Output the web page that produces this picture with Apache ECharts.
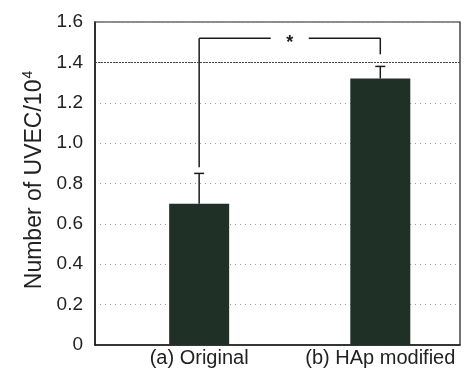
<!DOCTYPE html>
<html>
<head>
<meta charset="utf-8">
<script src="https://cdn.jsdelivr.net/npm/echarts@6/dist/echarts.min.js"></script>
<style>
  html, body { margin: 0; padding: 0; background: #fff; }
  #chart { width: 464px; height: 372px; }
</style>
</head>
<body>
<div id="chart"></div>
<script>
  // data
  const categories = ['(a) Original', '(b) HAp modified']
  const means = [0.70, 1.32]
  const errors = [0.15, 0.06]
  const yMin = 0, yMax = 1.6, yStep = 0.2
  const highlightLine = 1.4
  // significance bracket: top level and where each leg stops
  const bracketTop = 1.52
  const bracketLegs = [0.88, 1.44]
  const sigMark = '*'

  const ink = '#1a1a1a'
  const chart = echarts.init(document.getElementById('chart'))

  function seg(x1, y1, x2, y2) {
    return { type: 'line', shape: { x1, y1, x2, y2 }, style: { stroke: ink, lineWidth: 1.5 } }
  }

  chart.setOption({
    animation: false,
    grid: {
      left: 95, right: 4, top: 22, bottom: 27,
      show: true,
      borderColor: ink,
      borderWidth: 1.2
    },
    xAxis: {
      type: 'value',
      min: -0.575,
      max: 1.44,
      axisLine: { show: true, onZero: false, lineStyle: { color: ink, width: 1.5 } },
      axisTick: { show: false },
      splitLine: { show: false },
      axisLabel: {
        customValues: [0, 1],
        formatter: v => categories[Math.round(v)],
        fontFamily: 'Liberation Sans',
        fontSize: 20,
        color: '#222',
        margin: 3
      }
    },
    yAxis: {
      type: 'value',
      min: yMin,
      max: yMax,
      interval: yStep,
      name: '{a|Number of UVEC/10}{s|4}',
      nameLocation: 'middle',
      nameGap: 46,
      nameTextStyle: {
        padding: [0, 0, 0, 7],
        rich: {
          a: { fontFamily: 'Liberation Sans', fontSize: 23, color: '#222' },
          s: { fontFamily: 'Liberation Sans', fontSize: 14, color: '#222', padding: [0, 0, 12, 1] }
        }
      },
      axisLine: { show: true, onZero: false, lineStyle: { color: ink, width: 1.5 } },
      axisTick: { show: false },
      axisLabel: {
        formatter: v => v === 0 ? '0' : v.toFixed(1),
        fontFamily: 'Liberation Sans',
        fontSize: 19,
        color: '#222',
        margin: 12
      },
      splitLine: { show: true, lineStyle: { color: '#9a9a9a', type: [1, 4], width: 1 } }
    },
    series: [
      {
        type: 'bar',
        barWidth: 60,
        data: means.map((v, i) => [i, v]),
        itemStyle: { color: '#1f3126' },
        markLine: {
          silent: true,
          symbol: 'none',
          label: { show: false },
          lineStyle: { color: '#444', type: [2, 1], width: 1 },
          data: [{ yAxis: highlightLine }]
        }
      },
      {
        // upper error bars
        type: 'custom',
        data: means.map((v, i) => [i, v, errors[i]]),
        renderItem: (params, api) => {
          const i = api.value(0)
          const bx = api.coord([i, api.value(1)])
          const x = bx[0], y0 = bx[1]
          const y1 = api.coord([i, api.value(1) + api.value(2)])[1]
          return {
            type: 'group',
            children: [seg(x, y0, x, y1), seg(x - 5, y1, x + 5, y1)]
          }
        }
      },
      {
        // significance bracket
        type: 'custom',
        data: [[0, 1]],
        renderItem: (params, api) => {
          const a = api.value(0), b = api.value(1)
          const lx = api.coord([a, bracketTop])[0]
          const rx = api.coord([b, bracketTop])[0]
          const ty = api.coord([a, bracketTop])[1]
          const ly = api.coord([a, bracketLegs[0]])[1]
          const ry = api.coord([b, bracketLegs[1]])[1]
          const mid = (lx + rx) / 2
          const gap = 19
          return {
            type: 'group',
            children: [
              seg(lx, ly, lx, ty),
              seg(lx, ty, mid - gap, ty),
              seg(mid + gap, ty, rx, ty),
              seg(rx, ty, rx, ry),
              {
                type: 'text',
                style: {
                  text: sigMark, x: mid, y: ty + 5,
                  align: 'center', verticalAlign: 'middle',
                  font: 'bold 18px Liberation Sans', fill: ink
                }
              }
            ]
          }
        }
      }
    ]
  })
</script>
</body>
</html>
